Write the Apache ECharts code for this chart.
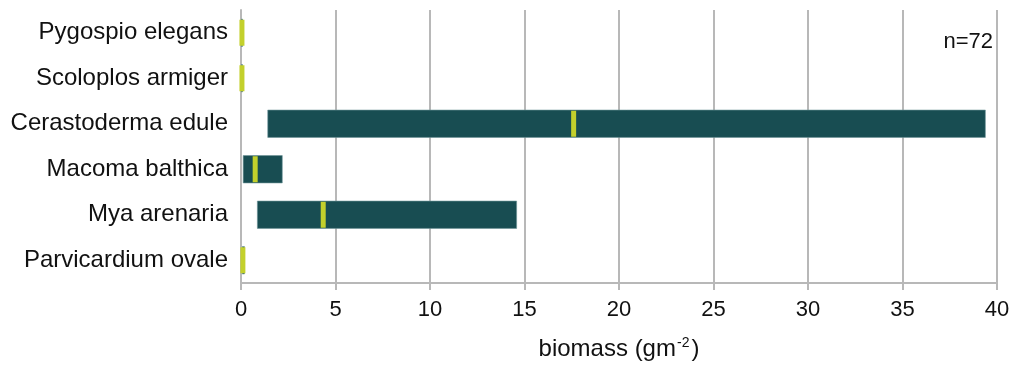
<!DOCTYPE html>
<html>
<head>
<meta charset="utf-8">
<script src="https://cdn.jsdelivr.net/npm/echarts@6/dist/echarts.min.js"></script>
<style>
  html, body { margin: 0; padding: 0; background: #fff; }
  #chart { width: 1014px; height: 365px; }
</style>
</head>
<body>
<div id="chart"></div>
<script>
// species, top to bottom
var species = ['Pygospio elegans', 'Scoloplos armiger', 'Cerastoderma edule',
  'Macoma balthica', 'Mya arenaria', 'Parvicardium ovale'];
// biomass range (min / max) and median, gm-2
var minVals = [0, 0, 1.4, 0.1, 0.85, 0.05];
var maxVals = [0.1, 0.1, 39.4, 2.2, 14.6, 0.2];
var medianVals = [0.05, 0.05, 17.6, 0.75, 4.35, 0.1];
var xTicks = [0, 5, 10, 15, 20, 25, 30, 35, 40];

var grey = '#b8b8b8';
var font = '"Liberation Sans", Arial, Helvetica, sans-serif';

var chart = echarts.init(document.getElementById('chart'));

var option = {
  animation: false,
  grid: {
    left: 241,
    right: 17,
    top: 10,
    bottom: 82,
    containLabel: false,
    outerBoundsMode: 'none'
  },
  xAxis: {
    type: 'value',
    min: xTicks[0],
    max: xTicks[xTicks.length - 1],
    interval: 5,
    name: '{n|biomass (gm}{s|-2}{n|)}',
    nameLocation: 'middle',
    nameGap: 53,
    nameTextStyle: {
      rich: {
        n: { fontSize: 24, fontFamily: font, color: '#111' },
        s: { fontSize: 14, fontFamily: font, color: '#111', verticalAlign: 'top', padding: [0, 2, 12, 1] }
      }
    },
    axisLine: { show: true, lineStyle: { color: grey, width: 2 } },
    axisTick: { show: true, length: 7, lineStyle: { color: grey, width: 2 } },
    axisLabel: { fontSize: 22, fontFamily: font, color: '#111', margin: 16 },
    splitLine: { show: true, lineStyle: { color: grey, width: 2 } }
  },
  yAxis: {
    type: 'category',
    data: species,
    inverse: true,
    axisLine: { show: true, lineStyle: { color: grey, width: 2 } },
    axisTick: { show: false },
    axisLabel: { fontSize: 24, fontFamily: font, color: '#111', margin: 13 }
  },
  series: [
    {
      name: 'base',
      type: 'bar',
      stack: 'range',
      silent: true,
      barWidth: 28,
      itemStyle: { color: 'transparent' },
      data: minVals
    },
    {
      name: 'range',
      type: 'bar',
      stack: 'range',
      barWidth: 28,
      itemStyle: { color: '#184d52', borderColor: '#6f9598', borderWidth: 0.6 },
      data: maxVals.map(function (v, i) { return +(v - minVals[i]).toFixed(3); })
    },
    {
      name: 'median',
      type: 'scatter',
      symbol: 'rect',
      symbolSize: [5, 26],
      itemStyle: { color: '#c3d02c', opacity: 1 },
      data: medianVals.map(function (v, i) { return [v, i]; }),
      z: 5
    }
  ],
  graphic: [
    {
      type: 'text',
      right: 21,
      top: 31,
      style: { text: 'n=72', fontSize: 22, fontFamily: font, fill: '#111' }
    }
  ]
};

chart.setOption(option);
</script>
</body>
</html>
